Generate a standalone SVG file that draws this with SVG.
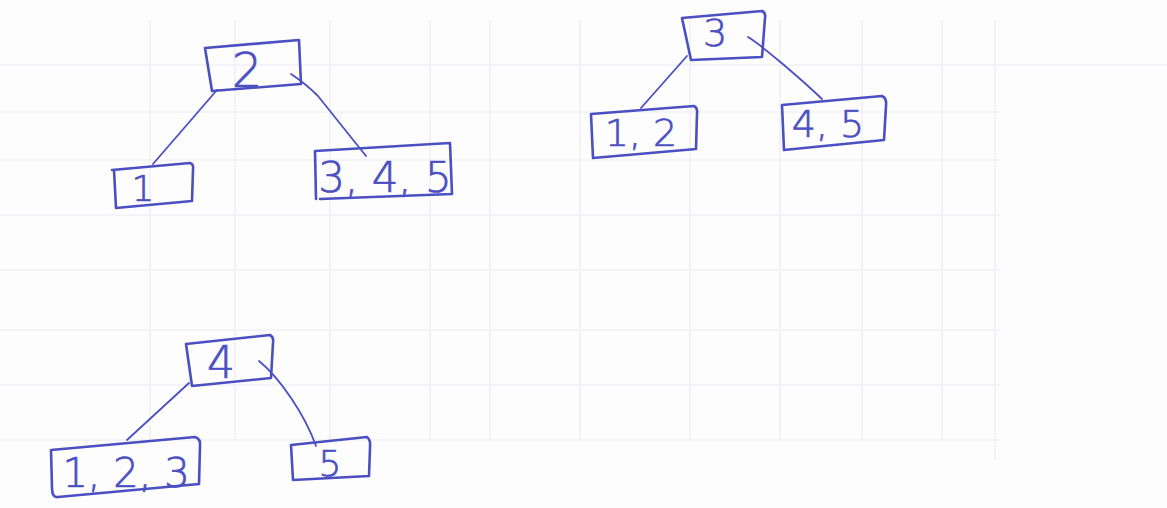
<svg xmlns="http://www.w3.org/2000/svg" width="1167" height="508" viewBox="0 0 1167 508">
  <style>
    .grid { stroke: #f0f0f6; stroke-width: 1.6; fill: none; }
    .box { fill: none; stroke: #4a4fc2; stroke-width: 2.6; stroke-linejoin: round; stroke-linecap: round; }
    .edge { fill: none; stroke: #4a4fc2; stroke-width: 1.8; stroke-linecap: round; }
    .lbl { font-family: "DejaVu Sans", "Liberation Sans", sans-serif; fill: #4a4fc2; stroke: #4a4fc2; stroke-width: 0.7; text-anchor: middle; font-weight: 300; }
  </style>
  <rect width="1167" height="508" fill="#fdfdfe"/>

  <!-- faint ruled grid of the paper -->
  <g class="grid">
    <path d="M150 20 V440 M235 20 V440 M330 20 V440 M430 20 V440 M490 20 V440 M580 20 V440 M690 20 V440 M780 20 V440 M862 20 V440 M942 20 V440 M995 20 V460"/>
    <path d="M0 65 H1167 M0 112 H1000 M0 160 H1000 M0 215 H1000 M0 270 H1000 M0 330 H1000 M0 385 H1000 M0 440 H1000"/>
  </g>

  <!-- connectors -->
  <g id="connectors">
    <path class="edge" d="M217 90 L153 164"/>
    <path class="edge" d="M291 74 C 300 80, 310 88, 318 96 L366 156"/>
    <path class="edge" d="M687 56 L641 108"/>
    <path class="edge" d="M748 37 C 760 44, 800 78, 822 99"/>
    <path class="edge" d="M189 383 L127 440"/>
    <path class="edge" d="M259 361 C 280 378, 305 415, 316 446"/>
  </g>

  <!-- tree rooted at 2 -->
  <g id="node-2">
    <path class="box" d="M205 48 L299 40 L301 84 L212 91 Z"/>
    <text class="lbl" x="247" y="87" font-size="48">2</text>
  </g>
  <g id="node-1">
    <path class="box" d="M112 170 L190 163 Q194 164 193 170 L192 201 L116 208 L114 170"/>
    <text class="lbl" x="143" y="201" font-size="36">1</text>
  </g>
  <g id="node-345">
    <path class="box" d="M315 151 L450 143 L452 194 L320 199 M315 151 L316 199"/>
    <text class="lbl" x="385" y="192" font-size="42">3, 4, 5</text>
  </g>

  <!-- tree rooted at 3 -->
  <g id="node-3">
    <path class="box" d="M682 18 L762 11 Q766 13 765 18 L762 57 L691 60 Z"/>
    <text class="lbl" x="715" y="46" font-size="38">3</text>
  </g>
  <g id="node-12">
    <path class="box" d="M591 114 L694 106 Q698 108 697 114 L696 149 L593 158 Z"/>
    <text class="lbl" x="641" y="146" font-size="38">1, 2</text>
  </g>
  <g id="node-45">
    <path class="box" d="M782 105 L882 96 Q887 98 886 106 L884 140 L784 150 Z"/>
    <text class="lbl" x="828" y="137" font-size="38">4, 5</text>
  </g>

  <!-- tree rooted at 4 -->
  <g id="node-4">
    <path class="box" d="M186 344 L270 335 Q274 337 273 343 L271 378 L192 386 Z"/>
    <text class="lbl" x="221" y="378" font-size="44">4</text>
  </g>
  <g id="node-123">
    <path class="box" d="M51 450 L195 437 Q201 439 200 446 L199 484 L58 497 Q52 498 52 488 Z"/>
    <text class="lbl" x="126" y="487" font-size="40">1, 2, 3</text>
  </g>
  <g id="node-5">
    <path class="box" d="M291 445 L367 437 Q371 440 370 448 L369 476 L293 480 Z"/>
    <text class="lbl" x="330" y="476" font-size="36">5</text>
  </g>
</svg>
